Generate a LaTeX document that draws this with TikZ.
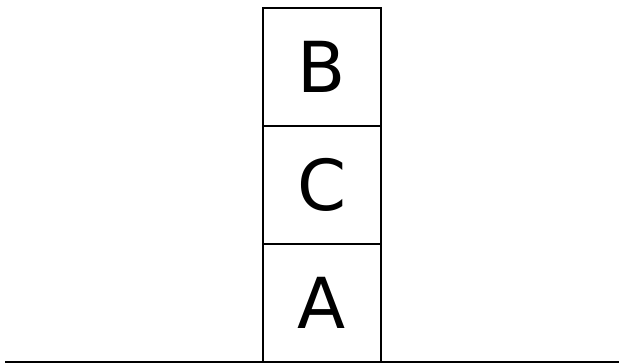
\documentclass[tikz,border=0pt]{standalone}
\usepackage{fontspec}
\setmainfont{DejaVu Sans}
\usetikzlibrary{positioning}
\begin{document}
\begin{tikzpicture}[line width=1pt,
    block/.style={draw, minimum size=2.36cm, inner sep=0pt, outer sep=0pt,
        font=\fontsize{40}{48}\selectfont}]
    \useasboundingbox (0,0) rectangle (12.38,7.26);

    % Boden
    \coordinate (groundL) at (0.1,0.02);
    \coordinate (groundR) at (12.38,0.02);
    \draw (groundL) -- (groundR);

    % Turm aus Bloecken
    \node[block, anchor=south] (A) at (6.44,0.02) {A};
    \node[block, above=0pt of A] (C) {C};
    \node[block, above=0pt of C] (B) {B};

\end{tikzpicture}
\end{document}
